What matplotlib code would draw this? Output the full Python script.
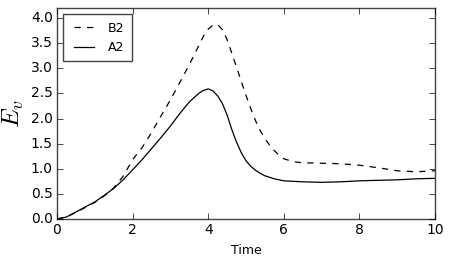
import matplotlib
matplotlib.use("Agg")
import matplotlib.pyplot as plt

plt.style.use('classic')
plt.rcParams['mathtext.fontset'] = 'cm'
plt.rcParams['font.family'] = ['DejaVu Sans']

time = [0, 0.25, 0.5, 0.75, 1.0, 1.25, 1.5, 1.75, 2.0, 2.25, 2.5, 2.75, 3.0,
        3.25, 3.5, 3.75, 3.875, 4.0, 4.125, 4.25, 4.375, 4.5, 4.625, 4.75, 4.875,
        5.0, 5.125, 5.25, 5.375, 5.5, 5.625, 5.75, 5.875, 6.0, 6.25, 6.5, 7.0,
        7.5, 8.0, 8.5, 9.0, 9.5, 10.0]
a2 = [0, 0.04, 0.14, 0.24, 0.34, 0.47, 0.61, 0.78, 0.98, 1.18, 1.40, 1.62, 1.85,
      2.10, 2.33, 2.50, 2.56, 2.59, 2.55, 2.45, 2.30, 2.07, 1.78, 1.53, 1.32,
      1.16, 1.05, 0.97, 0.91, 0.86, 0.83, 0.80, 0.78, 0.76, 0.75, 0.74, 0.73,
      0.74, 0.76, 0.77, 0.78, 0.80, 0.81]
b2 = [0, 0.04, 0.13, 0.23, 0.33, 0.46, 0.62, 0.85, 1.18, 1.42, 1.72, 2.05, 2.37,
      2.72, 3.07, 3.45, 3.64, 3.78, 3.86, 3.87, 3.77, 3.57, 3.30, 3.02, 2.74,
      2.46, 2.20, 1.96, 1.76, 1.60, 1.47, 1.36, 1.27, 1.20, 1.14, 1.12, 1.11,
      1.10, 1.07, 1.02, 0.96, 0.94, 0.96]

fig = plt.figure(figsize=(4.52, 2.59), dpi=100)
fig.patch.set_facecolor('white')
ax = fig.add_axes([57/452, 40/259, 378/452, 211/259])
ax.plot(time, b2, color='black', linestyle='--', dashes=(4.5, 4.5), lw=0.9, label='B2')
ax.plot(time, a2, color='black', linestyle='-', lw=0.9, label='A2')
ax.set_xlim(0, 10)
ax.set_ylim(0, 4.2)
ax.set_xticks([0, 2, 4, 6, 8, 10])
ax.set_yticks([0, 0.5, 1.0, 1.5, 2.0, 2.5, 3.0, 3.5, 4.0])
ax.set_yticklabels(['0.0', '0.5', '1.0', '1.5', '2.0', '2.5', '3.0', '3.5', '4.0'])
ax.tick_params(labelsize=10, direction='in', length=4, top=True, right=True, pad=3)
ax.set_xlabel('Time', fontsize=9)
ax.set_ylabel('$E_v$', fontsize=18)
ax.yaxis.set_label_coords(-0.082, 0.5)
for s in ax.spines.values():
    s.set_color('#444444')
leg = ax.legend(loc='upper left', fontsize=9, handlelength=2.2, frameon=True,
                fancybox=False, borderpad=0.6, labelspacing=0.5)
leg.get_frame().set_edgecolor('#444444')
fig.savefig('out.png', dpi=100, facecolor='white')
